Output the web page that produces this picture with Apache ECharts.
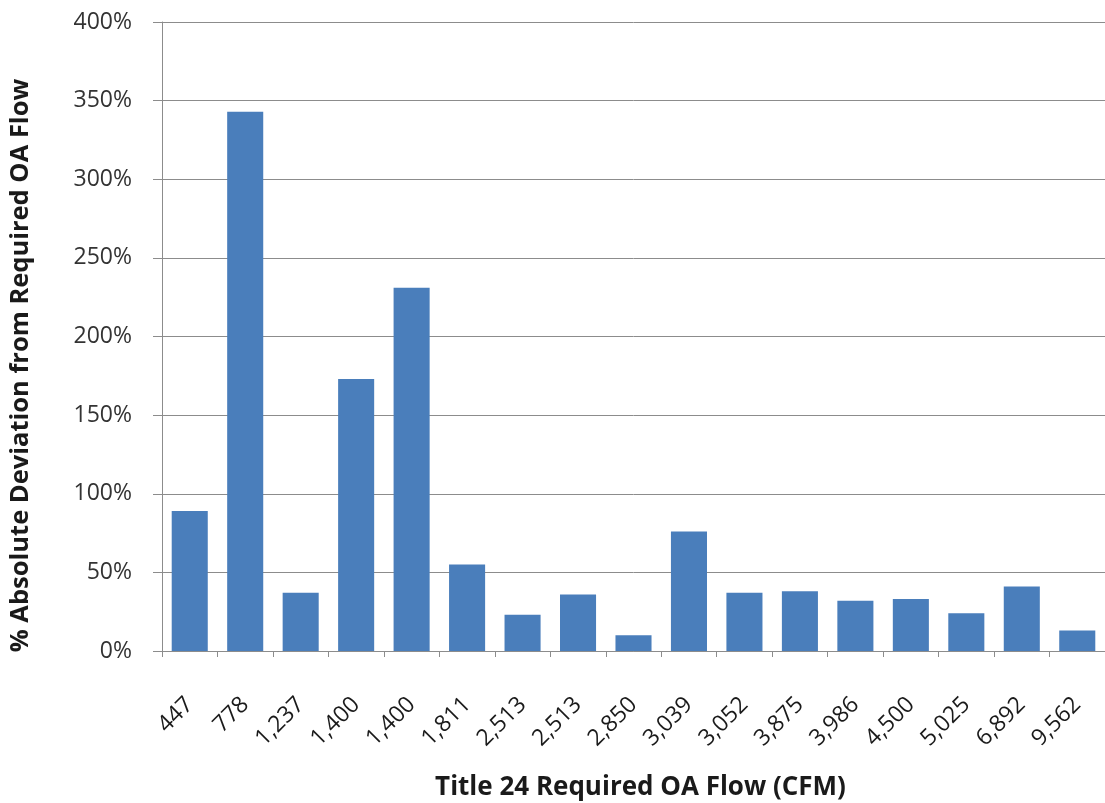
<!DOCTYPE html>
<html>
<head>
<meta charset="utf-8">
<title>OA Flow Deviation</title>
<script src="https://cdn.jsdelivr.net/npm/echarts@6/dist/echarts.min.js"></script>
<style>
  html, body { margin: 0; padding: 0; background: #ffffff; }
  #chart { width: 1105px; height: 803px; }
</style>
</head>
<body>
<div id="chart"></div>
<script>
// Title 24 required outdoor-air flow per unit (CFM)
const categories = ['447', '778', '1,237', '1,400', '1,400', '1,811', '2,513', '2,513', '2,850',
  '3,039', '3,052', '3,875', '3,986', '4,500', '5,025', '6,892', '9,562'];
// Absolute deviation from required OA flow, percent
const deviation = [89, 343, 37, 173, 231, 55, 23, 36, 10, 76, 37, 38, 32, 33, 24, 41, 13];
// Value-axis ticks
const yTicks = [0, 50, 100, 150, 200, 250, 300, 350, 400];

const font = '"Open Sans", Lato, "Liberation Sans", sans-serif';
const chart = echarts.init(document.getElementById('chart'), null, { renderer: 'canvas' });

chart.setOption({
  animation: false,
  backgroundColor: '#ffffff',
  grid: { left: 162, right: 0, top: 22, bottom: 152, containLabel: false, outerBoundsMode: 'none' },
  xAxis: {
    type: 'category',
    data: categories,
    name: 'Title 24 Required OA Flow (CFM)',
    nameLocation: 'middle',
    nameGap: 124,
    nameTextStyle: { fontFamily: font, fontSize: 26, fontWeight: 'bold', color: '#1a1a1a', padding: [0, 0, 0, 14] },
    axisLine: { show: true, lineStyle: { color: '#8c8c8c', width: 1 } },
    axisTick: { show: true, length: 6, alignWithLabel: false, lineStyle: { color: '#8c8c8c' } },
    axisLabel: { rotate: 45, margin: 50, fontFamily: font, fontSize: 23, color: '#1a1a1a', interval: 0 }
  },
  yAxis: {
    type: 'value',
    min: yTicks[0],
    max: yTicks[yTicks.length - 1],
    interval: yTicks[1] - yTicks[0],
    name: '% Absolute Deviation from Required OA Flow',
    nameLocation: 'middle',
    nameGap: 128,
    nameRotate: 90,
    nameTextStyle: { fontFamily: font, fontSize: 25.5, fontWeight: 'bold', color: '#1a1a1a', padding: [0, 58, 0, 0] },
    axisLine: { show: true, lineStyle: { color: '#8c8c8c', width: 1 } },
    axisTick: { show: true, inside: false, length: 9, lineStyle: { color: '#8c8c8c' } },
    axisLabel: { margin: 30, fontFamily: font, fontSize: 23, color: '#333333', formatter: v => v + '%' },
    splitLine: { show: true, lineStyle: { color: '#8c8c8c', width: 1 } }
  },
  series: [{
    type: 'bar',
    data: deviation,
    barCategoryGap: '35%',
    itemStyle: { color: '#4a7ebb' }
  }]
});
</script>
</body>
</html>
